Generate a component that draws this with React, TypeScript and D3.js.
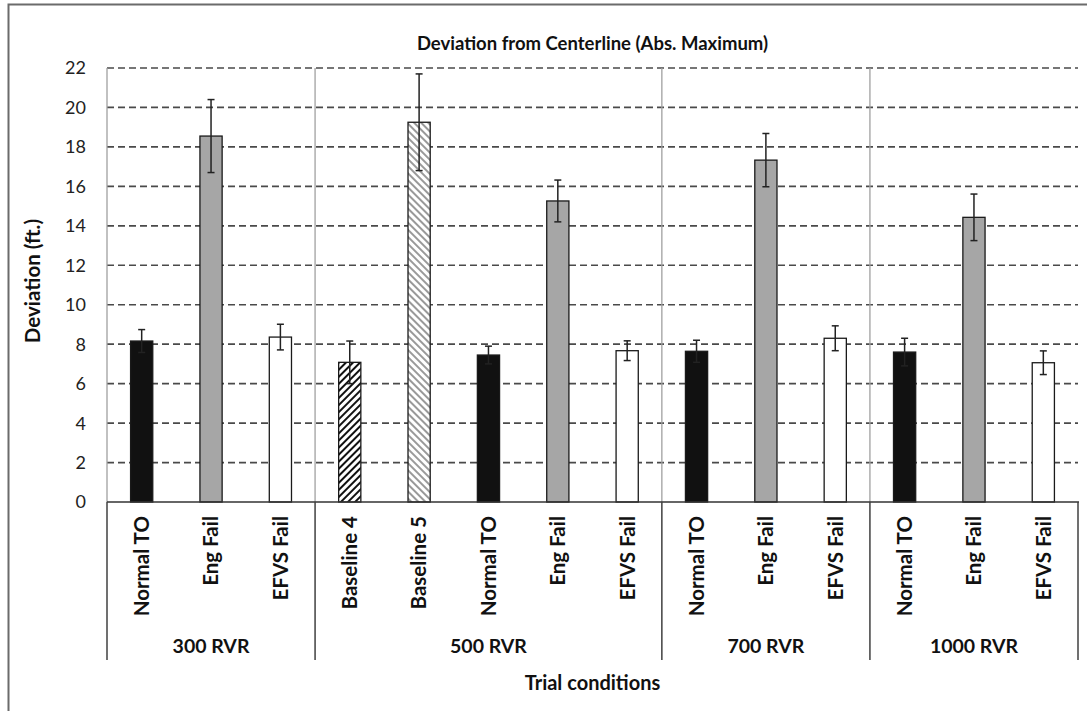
import { useEffect, useRef } from "react";
import * as d3 from "d3";

const groups = ["300 RVR", "500 RVR", "700 RVR", "1000 RVR"];
const conditions = [
  "Normal TO", "Eng Fail", "EFVS Fail",
  "Baseline 4", "Baseline 5", "Normal TO", "Eng Fail", "EFVS Fail",
  "Normal TO", "Eng Fail", "EFVS Fail",
  "Normal TO", "Eng Fail", "EFVS Fail",
];
const conditionGroup = [0, 0, 0, 1, 1, 1, 1, 1, 2, 2, 2, 3, 3, 3];
const deviation = [8.16, 18.55, 8.36, 7.08, 19.25, 7.45, 15.26, 7.67, 7.64, 17.33, 8.3, 7.6, 14.43, 7.06];
const errorSize = [0.58, 1.85, 0.65, 1.08, 2.45, 0.45, 1.06, 0.5, 0.56, 1.35, 0.63, 0.7, 1.18, 0.6];
const yTicks = [0, 2, 4, 6, 8, 10, 12, 14, 16, 18, 20, 22];

const FONT = "Lato, 'Open Sans', sans-serif";

const fillFor = (label: string) => {
  if (label === "Normal TO") return "#111111";
  if (label === "Eng Fail") return "#a6a6a6";
  if (label === "Baseline 4") return "url(#hatchDense)";
  if (label === "Baseline 5") return "url(#hatchLight)";
  return "#ffffff";
};

export default function App() {
  const svgRef = useRef<SVGSVGElement>(null);

  useEffect(() => {
    if (!svgRef.current) return;
    const svg = d3.select(svgRef.current);
    svg.selectAll("*").remove();

    const width = 1087;
    const height = 711;
    const plot = { left: 107, right: 1078, top: 68, bottom: 502 };

    svg.append("rect").attr("width", width).attr("height", height).attr("fill", "#fff");

    // outer frame
    svg
      .append("rect")
      .attr("x", 8.5)
      .attr("y", 4.5)
      .attr("width", 1100)
      .attr("height", 740)
      .attr("fill", "none")
      .attr("stroke", "#6b6b6b")
      .attr("stroke-width", 2);

    // hatch patterns
    const defs = svg.append("defs");
    const dense = defs
      .append("pattern")
      .attr("id", "hatchDense")
      .attr("patternUnits", "userSpaceOnUse")
      .attr("width", 5)
      .attr("height", 5)
      .attr("patternTransform", "rotate(45)");
    dense.append("rect").attr("width", 5).attr("height", 5).attr("fill", "#fff");
    dense.append("line").attr("x1", 1).attr("x2", 1).attr("y1", 0).attr("y2", 5)
      .attr("stroke", "#111").attr("stroke-width", 2);

    const light = defs
      .append("pattern")
      .attr("id", "hatchLight")
      .attr("patternUnits", "userSpaceOnUse")
      .attr("width", 5)
      .attr("height", 5)
      .attr("patternTransform", "rotate(-45)");
    light.append("rect").attr("width", 5).attr("height", 5).attr("fill", "#fff");
    light.append("line").attr("x1", 1).attr("x2", 1).attr("y1", 0).attr("y2", 5)
      .attr("stroke", "#555").attr("stroke-width", 1.2);

    const idx = conditions.map((_, i) => String(i));
    const x = d3.scaleBand().domain(idx).range([plot.left, plot.right]).padding(0);
    const y = d3.scaleLinear().domain([0, 22]).range([plot.bottom, plot.top]);
    const barW = x.bandwidth() * 0.32;

    // grid lines
    svg
      .append("g")
      .selectAll("line")
      .data(yTicks.filter((t) => t > 0))
      .join("line")
      .attr("x1", plot.left)
      .attr("x2", plot.right)
      .attr("y1", (d) => y(d))
      .attr("y2", (d) => y(d))
      .attr("stroke", "#4a4a4a")
      .attr("stroke-width", 1.7)
      .attr("stroke-dasharray", "7,4");

    // group boundaries (index of first category in each group + end)
    const bounds: number[] = [0];
    groups.forEach((_, gi) => {
      const last = conditionGroup.lastIndexOf(gi);
      bounds.push(last + 1);
    });
    const boundX = (b: number) =>
      b < conditions.length ? (x(String(b)) as number) : plot.right;

    svg
      .append("g")
      .selectAll("line")
      .data(bounds.filter((b) => b < conditions.length))
      .join("line")
      .attr("x1", (d) => boundX(d))
      .attr("x2", (d) => boundX(d))
      .attr("y1", plot.top)
      .attr("y2", plot.bottom)
      .attr("stroke", "#a0a0a0")
      .attr("stroke-width", 1.3);

    // bars
    svg
      .append("g")
      .selectAll("rect")
      .data(deviation)
      .join("rect")
      .attr("x", (_, i) => (x(String(i)) as number) + (x.bandwidth() - barW) / 2)
      .attr("y", (d) => y(d))
      .attr("width", barW)
      .attr("height", (d) => plot.bottom - y(d))
      .attr("fill", (_, i) => fillFor(conditions[i]))
      .attr("stroke", "#1a1a1a")
      .attr("stroke-width", 1.3);

    // error bars
    const eb = svg.append("g").attr("stroke", "#222").attr("stroke-width", 1.5);
    deviation.forEach((d, i) => {
      const cx = (x(String(i)) as number) + x.bandwidth() / 2;
      const lo = y(d - errorSize[i]);
      const hi = y(d + errorSize[i]);
      eb.append("line").attr("x1", cx).attr("x2", cx).attr("y1", lo).attr("y2", hi);
      eb.append("line").attr("x1", cx - 3.5).attr("x2", cx + 3.5).attr("y1", lo).attr("y2", lo);
      eb.append("line").attr("x1", cx - 3.5).attr("x2", cx + 3.5).attr("y1", hi).attr("y2", hi);
    });

    // category axis
    const axisBottom = 660;
    svg
      .append("line")
      .attr("x1", plot.left)
      .attr("x2", plot.right + 1)
      .attr("y1", plot.bottom)
      .attr("y2", plot.bottom)
      .attr("stroke", "#333")
      .attr("stroke-width", 1.5);
    svg
      .append("g")
      .selectAll("line")
      .data(bounds)
      .join("line")
      .attr("x1", (d) => boundX(d))
      .attr("x2", (d) => boundX(d))
      .attr("y1", plot.bottom)
      .attr("y2", axisBottom)
      .attr("stroke", "#404040")
      .attr("stroke-width", 1.5);

    // y tick labels
    svg
      .append("g")
      .selectAll("text")
      .data(yTicks)
      .join("text")
      .attr("x", 86)
      .attr("y", (d) => y(d))
      .attr("dy", "0.36em")
      .attr("text-anchor", "end")
      .attr("font-family", FONT)
      .attr("font-size", 18)
      .attr("fill", "#222")
      .text((d) => d);

    // category labels
    svg
      .append("g")
      .selectAll("text")
      .data(conditions)
      .join("text")
      .attr("transform", (_, i) => {
        const cx = (x(String(i)) as number) + x.bandwidth() / 2;
        return `translate(${cx},516) rotate(-90)`;
      })
      .attr("dy", "0.36em")
      .attr("text-anchor", "end")
      .attr("font-family", FONT)
      .attr("font-weight", "bold")
      .attr("font-size", 20.5)
      .attr("fill", "#111")
      .text((d) => d);

    // group labels
    svg
      .append("g")
      .selectAll("text")
      .data(groups)
      .join("text")
      .attr("x", (_, gi) => (boundX(bounds[gi]) + boundX(bounds[gi + 1])) / 2)
      .attr("y", 653)
      .attr("text-anchor", "middle")
      .attr("font-family", FONT)
      .attr("font-weight", "bold")
      .attr("font-size", 19.5)
      .attr("fill", "#111")
      .text((d) => d);

    const midX = (plot.left + plot.right) / 2;

    svg
      .append("text")
      .attr("x", midX)
      .attr("y", 50)
      .attr("text-anchor", "middle")
      .attr("font-family", FONT)
      .attr("font-weight", "bold")
      .attr("font-size", 18.5)
      .attr("fill", "#111")
      .text("Deviation from Centerline (Abs. Maximum)");

    svg
      .append("text")
      .attr("x", midX)
      .attr("y", 690)
      .attr("text-anchor", "middle")
      .attr("font-family", FONT)
      .attr("font-weight", "bold")
      .attr("font-size", 20)
      .attr("fill", "#111")
      .text("Trial conditions");

    svg
      .append("text")
      .attr("transform", "translate(33,281) rotate(-90)")
      .attr("dy", "0.36em")
      .attr("text-anchor", "middle")
      .attr("font-family", FONT)
      .attr("font-weight", "bold")
      .attr("font-size", 20.5)
      .attr("fill", "#111")
      .text("Deviation (ft.)");
  }, []);

  return (
    <svg
      ref={svgRef}
      width={1087}
      height={711}
      style={{ position: "absolute", left: 0, top: 0, display: "block" }}
    />
  );
}
